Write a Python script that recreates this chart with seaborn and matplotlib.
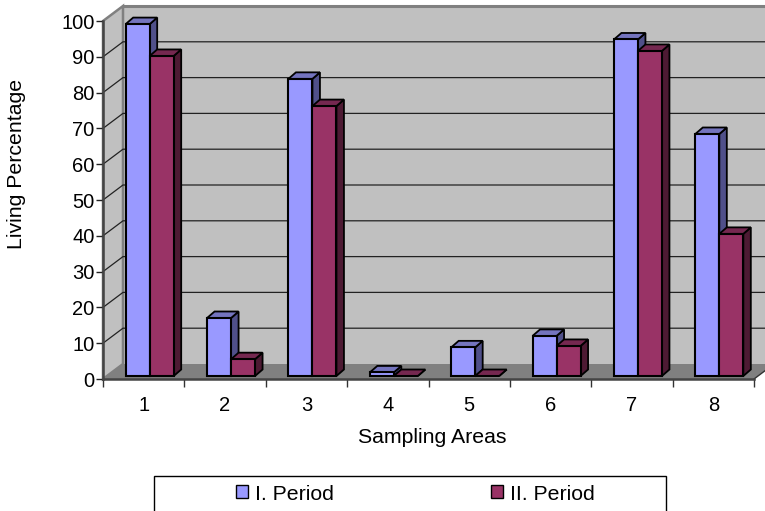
import numpy as np
import pandas as pd
import matplotlib
matplotlib.use("Agg")
import matplotlib.pyplot as plt
from matplotlib.patches import Polygon, Patch, Rectangle
from matplotlib.transforms import Affine2D, IdentityTransform
import seaborn as sns

areas = ["1", "2", "3", "4", "5", "6", "7", "8"]
period_1 = [98.3, 16.2, 83.0, 1.0, 8.0, 11.2, 94.0, 67.6]
period_2 = [89.4, 4.7, 75.4, 0.0, 0.0, 8.4, 90.8, 39.7]
series_names = ["I. Period", "II. Period"]
y_ticks = list(range(0, 101, 10))

W, H = 765, 511
sns.set_theme(style="white")
plt.rcParams["font.family"] = ["Liberation Sans", "DejaVu Sans"]
plt.rcParams["text.color"] = "black"
FS_TICK = 14.5
FS = 15.3

df = pd.DataFrame({
    "area": areas * 2,
    "value": period_1 + period_2,
    "period": [series_names[0]] * 8 + [series_names[1]] * 8,
})

fig = plt.figure(figsize=(W / 100, H / 100), dpi=100, facecolor="white")
ax = fig.add_axes([103 / W, 1 - 379 / H, (754 - 103) / W, (379 - 21) / H])
ax.patch.set_visible(False)

front = {"I. Period": "#9999FF", "II. Period": "#993366"}
side = ["#50508A", "#4D1A33"]
top = ["#7474BE", "#752850"]

sns.barplot(data=df, x="area", y="value", hue="period", palette=front, width=0.59, gap=0,
            edgecolor="black", linewidth=1.5, saturation=1, legend=False, ax=ax)
ax.set_xlim(-0.5, 7.5)
ax.set_ylim(0, 100)

# image pixels -> display
px = Affine2D().scale(1, -1).translate(0, H)
DX, DY = 20, 15      # wall depth
BX, BY = 6, 3        # bar inset from the front plane
SX, SY = 7.5, 6.5    # bar depth

def poly(pts, fc, ec="none", lw=0, z=0.5, tr=px):
    ax.add_patch(Polygon(pts, closed=True, fc=fc, ec=ec, lw=lw, zorder=z, transform=tr, clip_on=False))

poly([(123, 6), (785, 6), (785, 364), (123, 364)], "#C0C0C0", z=0.2)
poly([(103, 379), (123, 364), (123, 6), (103, 21)], "#C0C0C0", ec="#808080", lw=1.8, z=0.3)
poly([(103, 379), (754, 379), (774, 364), (123, 364)], "#808080", z=0.4)
ax.plot([123, 785], [6, 6], color="#808080", lw=2.2, transform=px, clip_on=False, zorder=0.45)

for v in y_ticks:
    if v in (0, 100):
        continue
    y_img = H - ax.transData.transform((0, v))[1]
    ax.plot([103, 123, 785], [y_img, y_img - DY, y_img - DY], color="#222222", lw=0.9,
            transform=px, clip_on=False, zorder=0.6, solid_joinstyle="miter")
ax.plot([754, 774], [379, 364], color="#333333", lw=1.0, transform=px, clip_on=False, zorder=0.6)

shift = Affine2D().translate(BX, BY)
for i, cont in enumerate(ax.containers):
    for bar in cont:
        bar.set_transform(ax.transData + shift)
        bar.set_clip_on(False)
        bar.set_zorder(3 + i)
        x0, w, h = bar.get_x(), bar.get_width(), bar.get_height()
        (xa, ya), (xb, yb) = ax.transData.transform([(x0, 0), (x0 + w, h)])
        xa += BX; xb += BX; ya += BY; yb += BY
        d = IdentityTransform()
        poly([(xb, ya), (xb + SX, ya + SY), (xb + SX, yb + SY), (xb, yb)], side[i],
             ec="black", lw=1.3, z=3 + i - 0.1, tr=d)
        poly([(xa, yb), (xb, yb), (xb + SX, yb + SY), (xa + SX, yb + SY)], top[i],
             ec="black", lw=1.3, z=3 + i - 0.1, tr=d)

sns.despine(ax=ax, top=True, right=True)
for name in ("left", "bottom"):
    ax.spines[name].set_color("#444444")
    ax.spines[name].set_linewidth(1.8)
    ax.spines[name].set_zorder(2.5)

ax.set_yticks(y_ticks)
ax.set_xticks(range(8), areas)
ax.set_xticks(np.arange(-0.5, 8, 1), minor=True)
ax.tick_params(axis="y", which="major", length=5, width=1.0, color="#222222", left=True,
               labelsize=FS_TICK, pad=1, labelcolor="black")
ax.tick_params(axis="x", which="major", length=0, labelsize=FS_TICK, pad=12, labelcolor="black")
ax.tick_params(axis="x", which="minor", length=6, width=1.0, color="#333333", bottom=True)

ax.set_xlabel("Sampling Areas", fontsize=FS, color="black")
ax.set_ylabel("Living Percentage", fontsize=FS, color="black")
ax.xaxis.set_label_coords(432.5, 428, transform=px)
ax.yaxis.set_label_coords(26, 164, transform=px)

# legend frame and entries
fig.add_artist(Rectangle((154, 476), 512, 40, fc="white", ec="black", lw=1.0, transform=px))
handles = [Patch(fc=front[n], ec="black", lw=1.0, label=n) for n in series_names]
fs_px = FS * 100 / 72
leg = fig.legend(handles=handles, loc="center left", ncols=2,
                 bbox_to_anchor=(236, 494), bbox_transform=px,
                 fontsize=FS, frameon=False, handlelength=12 / fs_px, handleheight=12 / fs_px,
                 handletextpad=7 / fs_px, borderaxespad=0, borderpad=0,
                 columnspacing=157 / fs_px, labelcolor="black")

fig.savefig("out.png", dpi=100)
